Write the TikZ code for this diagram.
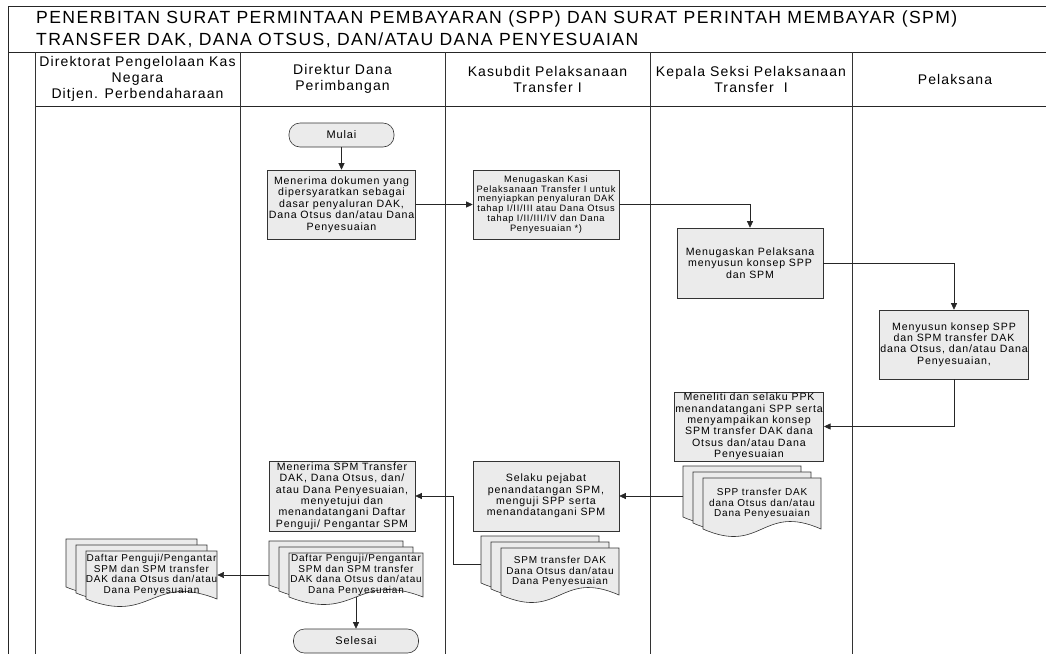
\documentclass[tikz,border=0pt]{standalone}
\usepackage{fontspec}
\setmainfont{Liberation Sans}
\newfontfamily\spacedfont[LetterSpace=8]{Liberation Sans}
\usetikzlibrary{arrows.meta}

\tikzset{
  frame/.style={draw=black!85, line width=0.9pt},
  lane/.style={draw=black!80, line width=0.6pt},
  procbox/.style={rectangle, draw=black!80, fill=black!8, line width=0.6pt, align=center, inner sep=1pt, font=\spacedfont\fontsize{10.6}{11.4}\selectfont},
  termbox/.style={rectangle, rounded corners=11pt, draw=black!80, fill=black!8, line width=0.6pt, minimum height=24pt, font=\spacedfont\fontsize{11}{12}\selectfont},
  docsheet/.style={draw=black!80, fill=black!8, line width=0.6pt},
  doctext/.style={rectangle, align=center, inner sep=0pt, font=\spacedfont\fontsize{10}{10.6}\selectfont},
  headtext/.style={align=center, font=\spacedfont\fontsize{14}{16}\selectfont},
  arr/.style={draw=black!85, line width=0.6pt, -{Triangle[length=6.5pt,width=6pt]}},
}

% stack of three documents: name, x, y (front sheet top left), width, height, text
\newcommand{\multidoc}[6]{%
  \foreach \k in {2,1,0}
    \filldraw[docsheet] ({#2-10*\k},{#3-6*\k}) -- ({#2-10*\k+#4},{#3-6*\k})
      -- ({#2-10*\k+#4},{#3-6*\k+#5})
      .. controls ({#2-10*\k+#4/2},{#3-6*\k+#5-26}) and ({#2-10*\k+#4/2},{#3-6*\k+#5+26})
      .. ({#2-10*\k},{#3-6*\k+#5}) -- cycle;
  \node (#1) [doctext, minimum width=#4pt, minimum height=#5pt] at ({#2+#4/2},{#3+#5/2}) {#6};
  \coordinate (#1-b) at ({#2-20},{#3+0.35*#5});
}

\begin{document}
\begin{tikzpicture}[x=1pt, y=-1pt]
  \fill[white] (0,0) rectangle (1046,654);
  \useasboundingbox (0,0) rectangle (1046,654);
  % Frame
  \draw[frame] (1046,6) -- (8,6) -- (8,654);
  \draw[frame] (8,52) -- (1046,52);
  \draw[frame] (35,106) -- (1046,106);
  \foreach \xl in {35,240,445,650,852}
    \draw[lane] (\xl,52) -- (\xl,654);

  % Title and lanes
  \node (title) [anchor=west, align=left, inner sep=0pt, font=\spacedfont\fontsize{17.6}{21.5}\selectfont] at (36,29)
    {PENERBITAN SURAT PERMINTAAN PEMBAYARAN (SPP) DAN SURAT PERINTAH MEMBAYAR (SPM)\\TRANSFER DAK, DANA OTSUS, DAN/ATAU DANA PENYESUAIAN};
  \node (h-kas) [headtext] at (137.5,79) {Direktorat Pengelolaan Kas\\Negara\\Ditjen. Perbendaharaan};
  \node (h-dir) [headtext] at (342.5,79) {Direktur Dana\\Perimbangan};
  \node (h-kasubdit) [headtext] at (547.5,79) {Kasubdit Pelaksanaan\\Transfer I};
  \node (h-kasi) [headtext] at (751,79) {Kepala Seksi Pelaksanaan\\Transfer\ \ I};
  \node (h-pel) [headtext] at (955,79) {Pelaksana};

  % Nodes
  \node (mulai) [termbox, minimum width=105pt] at (341.5,135) {Mulai};
  \node (terima-dok) [procbox, minimum width=145pt, minimum height=69pt] at (341.5,204.5)
    {Menerima dokumen yang\\dipersyaratkan sebagai\\dasar penyaluran DAK,\\Dana Otsus dan/atau Dana\\Penyesuaian};
  \node (tugas-kasi) [procbox, minimum width=146pt, minimum height=69pt, font=\spacedfont\fontsize{9.3}{9.9}\selectfont] at (546,204.5)
    {Menugaskan Kasi\\Pelaksanaan Transfer I untuk\\menyiapkan penyaluran DAK\\tahap I/II/III atau Dana Otsus\\tahap I/II/III/IV dan Dana\\Penyesuaian *)};
  \node (tugas-pel) [procbox, minimum width=146pt, minimum height=70pt] at (750,263)
    {Menugaskan Pelaksana\\menyusun konsep SPP\\dan SPM};
  \node (susun) [procbox, minimum width=146pt, minimum height=69pt] at (954,344.5)
    {Menyusun konsep SPP\\dan SPM transfer DAK\\dana Otsus, dan/atau Dana\\Penyesuaian,};
  \node (teliti) [procbox, minimum width=144pt, minimum height=69pt] at (749,426.5)
    {Meneliti dan selaku PPK\\menandatangani SPP serta\\menyampaikan konsep\\SPM transfer DAK dana\\Otsus dan/atau Dana\\Penyesuaian};
  \multidoc{spp-doc}{703}{478}{118}{51}{SPP transfer DAK\\dana Otsus dan/atau\\Dana Penyesuaian}
  \node (uji) [procbox, minimum width=146pt, minimum height=70pt] at (546,496)
    {Selaku pejabat\\penandatangan SPM,\\menguji SPP serta\\menandatangani SPM};
  \multidoc{spm-doc}{501}{548}{118}{47}{SPM transfer DAK\\Dana Otsus dan/atau\\Dana Penyesuaian}
  \node (terima-spm) [procbox, minimum width=146pt, minimum height=70pt] at (342,496)
    {Menerima SPM Transfer\\DAK, Dana Otsus, dan/\\atau Dana Penyesuaian,\\menyetujui dan\\menandatangani Daftar\\Penguji/ Pengantar SPM};
  \multidoc{daftar-dir}{289}{553}{134}{44}{Daftar Penguji/Pengantar\\SPM dan SPM transfer\\DAK dana Otsus dan/atau\\Dana Penyesuaian}
  \node (selesai) [termbox, minimum width=125pt] at (356,641) {Selesai};
  \multidoc{daftar-kas}{86}{551}{131}{48}{Daftar Penguji/Pengantar\\SPM dan SPM transfer\\DAK dana Otsus dan/atau\\Dana Penyesuaian}

  % Arrow
  \draw[arr] (mulai) -- (terima-dok);
  \draw[arr] (terima-dok) -- (tugas-kasi);
  \draw[arr] (tugas-kasi.east) -| (tugas-pel.north);
  \draw[arr] (tugas-pel.east) -| (susun.north);
  \draw[arr] (susun.south) |- (teliti.east);
  \draw[arr] (uji.east -| spp-doc-b) -- (uji.east);
  \draw[arr] (spm-doc-b) -- ++(-28,0) |- (terima-spm.east);
  \draw[arr] (daftar-dir.south) -- (selesai.north);
  \draw[arr] (daftar-kas.east -| daftar-dir-b) -- (daftar-kas.east);
\end{tikzpicture}
\end{document}
